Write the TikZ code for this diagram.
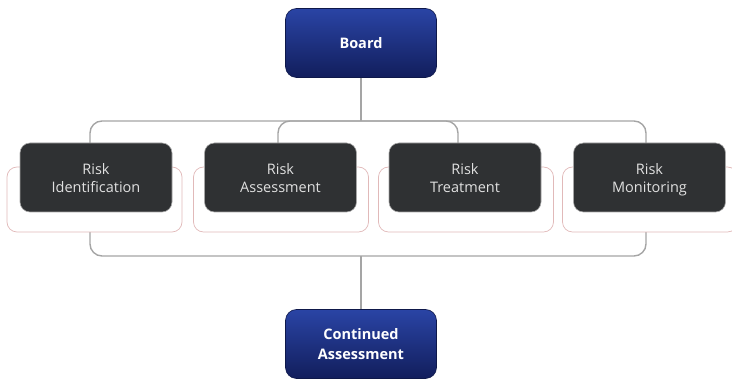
\documentclass[tikz,border=0pt]{standalone}
\usepackage{fontspec}
\setmainfont{Open Sans}
\definecolor{conn}{RGB}{165,165,165}
\definecolor{darkbox}{RGB}{47,49,51}
\definecolor{pinkedge}{RGB}{225,185,185}
\definecolor{bluetop}{RGB}{42,68,165}
\definecolor{bluebot}{RGB}{18,30,92}
\begin{document}
\begin{tikzpicture}[x=1pt,y=-1pt,
  bluebox/.style={rounded corners=11pt, top color=bluetop, bottom color=bluebot, draw=bluebot!80!black, line width=0.6pt,
    minimum width=151pt, minimum height=69pt, text=white, font=\fontsize{14.5}{20}\selectfont\bfseries, align=center, anchor=center},
  riskbox/.style={rounded corners=10pt, fill=darkbox, draw=gray!70, line width=0.6pt,
    minimum width=152pt, minimum height=69pt, anchor=center},
  risktext/.style={text=white!88!black, font=\fontsize{14.5}{18}\selectfont, align=center, anchor=center},
  backbox/.style={rounded corners=10pt, fill=white, draw=pinkedge, line width=0.7pt,
    minimum width=175pt, minimum height=65pt, anchor=center},
  connector/.style={draw=conn, line width=1.4pt, rounded corners=12pt}]
\useasboundingbox (0,0) rectangle (732,379);
% connectors
\coordinate (tl) at (90,121);
\coordinate (br) at (646,256);
\draw[connector] (tl) rectangle (br);
\coordinate (a1) at (278,150);
\coordinate (a2) at (458,150);
\coordinate (a1t) at (278,121);
\coordinate (a2t) at (458,121);
\draw[connector] (a1) -- (a1t) -- (a2t) -- (a2);
% back boxes
\node[backbox] (w1) at (94.5,199.5) {};
\node[backbox] (w2) at (281,199.5) {};
\node[backbox] (w3) at (466,199.5) {};
\node[backbox] (w4) at (650,199.5) {};
% risk boxes
\node[riskbox] (r1) at (96,177.5) {};
\node[riskbox] (r2) at (280.5,177.5) {};
\node[riskbox] (r3) at (465,177.5) {};
\node[riskbox] (r4) at (649.5,177.5) {};
\node[risktext] (t1) at ([yshift=-3pt]r1.center) {Risk\\Identification\strut};
\node[risktext] (t2) at ([yshift=-3pt]r2.center) {Risk\\Assessment\strut};
\node[risktext] (t3) at ([yshift=-3pt]r3.center) {Risk\\Treatment\strut};
\node[risktext] (t4) at ([yshift=-3pt]r4.center) {Risk\\Monitoring\strut};
% blue boxes
\node[bluebox] (board) at (361,43) {Board};
\node[bluebox] (ca) at (361,344) {Continued\\Assessment};
\coordinate (topmid) at (361,121);
\coordinate (botmid) at (361,256);
\draw[draw=conn, line width=1.4pt] (board.south) -- (topmid);
\draw[draw=conn, line width=1.4pt] (botmid) -- (ca.north);
\end{tikzpicture}
\end{document}
